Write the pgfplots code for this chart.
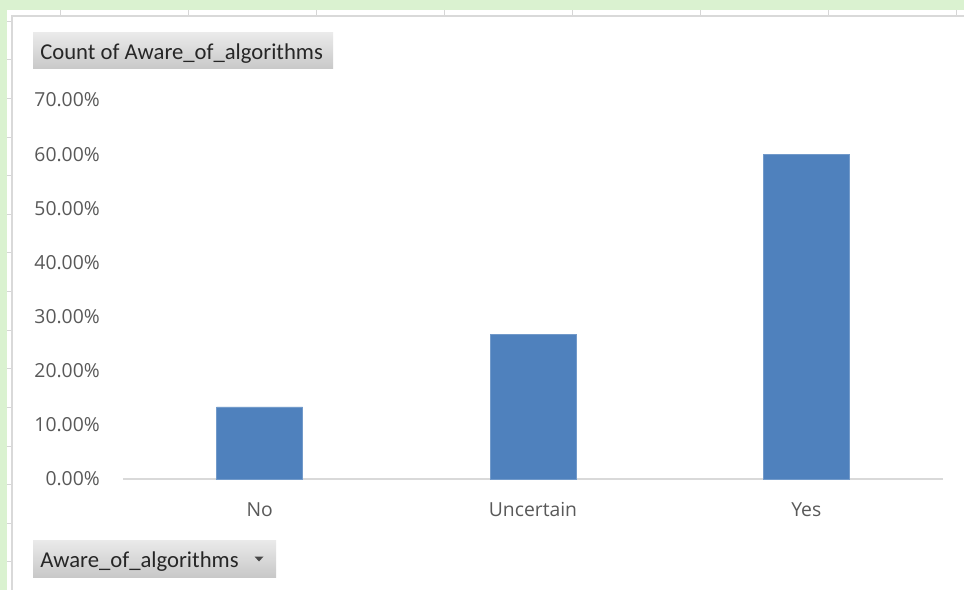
\documentclass[border=0pt]{standalone}
\usepackage{pgfplots}
\pgfplotsset{compat=1.18}
\usepackage{fontspec}
\setmainfont{Open Sans}
\newfontfamily\calib{Carlito}

\definecolor{sheetgreen}{RGB}{218,242,208}
\definecolor{cellline}{RGB}{214,214,214}
\definecolor{frame}{RGB}{217,217,217}
\definecolor{barblue}{RGB}{79,129,189}
\definecolor{ticktext}{RGB}{89,89,89}
\definecolor{btntop}{RGB}{234,234,234}
\definecolor{btnbot}{RGB}{200,200,200}

\begin{document}
\begin{tikzpicture}
% canvas in pixel units (964 x 590), origin bottom-left
\begin{scope}[x=0.75pt,y=0.75pt]
  \fill[sheetgreen] (0,0) rectangle (964,590);
  % spreadsheet cells peeking out above and left of the chart
  \fill[white] (7,0) rectangle (964,580);
  \foreach \gx in {60,188,316,444,572,700,828,956}
    \draw[cellline,line width=0.75pt] (\gx,575) -- (\gx,580);
  \foreach \gy in {21.4,60,98.6,137.2,175.8,214.4,253,291.6,330.2,368.8,407.4,446,484.6,523.2,561.8}
    \draw[cellline,line width=0.75pt] (7,590-\gy) -- (12,590-\gy);
  % chart area
  \fill[frame] (11,0) rectangle (964,575);
  \fill[white] (13,0) rectangle (964,573);
  % field buttons
  \shade[top color=btntop,bottom color=btnbot] (33,521) rectangle (333,557);
  \node[anchor=base west,inner sep=0pt,text=black!85]
    at (40,590-59.3) {\calib\fontsize{17}{20}\selectfont Count of Aware\_of\_algorithms};
  \shade[top color=btntop,bottom color=btnbot] (33,13) rectangle (276,50);
  \node[anchor=base west,inner sep=0pt,text=black!85]
    at (40,590-567.3) {\calib\fontsize{17}{20}\selectfont Aware\_of\_algorithms};
  \fill[black!72] (254.5,33.5) -- (263.5,33.5) -- (259,28.5) -- cycle;
\end{scope}

\begin{axis}[
  at={(92.25pt,83.25pt)}, anchor=south west,
  scale only axis,
  width=615pt, height=284.25pt,
  xmin=-0.5, xmax=2.5,
  ymin=0, ymax=70,
  axis x line*=bottom,
  axis y line*=left,
  x axis line style={draw=frame,line width=1.5pt,-},
  y axis line style={draw=none},
  major tick length=0pt,
  xtick={0,1,2},
  xticklabels={No,Uncertain,Yes},
  ytick={0,10,...,70},
  /pgf/number format/assume math mode=true,
  yticklabel={\pgfmathprintnumber[fixed,fixed zerofill,precision=2]{\tick}\%},
  ticklabel style={font=\fontsize{14.5}{17}\selectfont,text=ticktext,inner sep=0pt},
  yticklabel style={anchor=east,xshift=-17.25pt},
  xticklabel style={anchor=base,yshift=-28.3pt},
  ybar, bar width=64.5pt,
  clip=false,
]
\addplot[fill=barblue,draw=barblue!80!white,line width=0.4pt]
  coordinates {(0,13.33) (1,26.67) (2,60.00)};
\end{axis}
\pgfresetboundingbox
\path[use as bounding box] (0,0) rectangle (723pt,442.5pt);
\end{tikzpicture}
\end{document}
